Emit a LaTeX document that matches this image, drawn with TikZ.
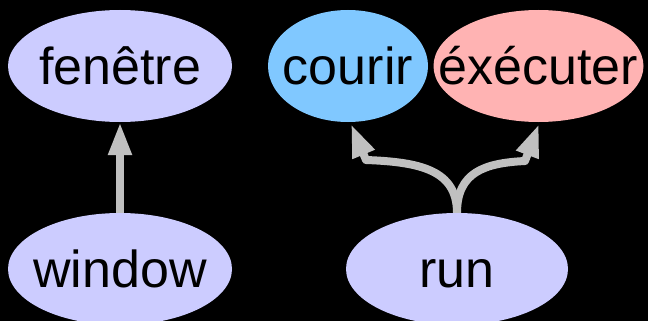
\documentclass[tikz,border=0pt]{standalone}
\usepackage{fontspec}
\setmainfont{Liberation Sans}
\usetikzlibrary{shapes.geometric,arrows.meta}
\definecolor{lav}{RGB}{204,204,255}
\definecolor{skyb}{RGB}{128,200,255}
\definecolor{pinkr}{RGB}{255,179,179}
\definecolor{arrgray}{RGB}{192,192,192}
\newcommand{\lbl}[1]{\makebox[0pt]{\smash{\raisebox{-0.35em}{#1}}}}
\begin{document}
\begin{tikzpicture}[x=1pt,y=-1pt,
  bubble/.style={ellipse,inner sep=0pt,minimum height=112pt,
    font=\fontsize{52}{60}\selectfont},
  conn/.style={draw=arrgray,line width=8pt,line join=round,
    -{Triangle[length=33pt,width=22pt]}}]
\fill[black] (0,0) rectangle (648,321);
\useasboundingbox (0,0) rectangle (648,321);
\node[bubble,fill=lav,minimum width=224pt] (fen) at (120,66) {\lbl{fenêtre}};
\node[bubble,fill=lav,minimum width=224pt] (win) at (120,269) {\lbl{window}};
\node[bubble,fill=skyb,minimum width=160pt] (cou) at (348,66) {\lbl{courir}};
\node[bubble,fill=pinkr,minimum width=210pt] (exe) at (538.5,66) {\lbl{éxécuter}};
\node[bubble,fill=lav,minimum width=222pt] (run) at (457,269) {\lbl{run}};
\coordinate (lb) at (366,160);
\coordinate (lt) at (351,124);
\coordinate (rb) at (525,161);
\coordinate (rt) at (539,124);
\draw[conn] (win.north) -- (fen.south);
\draw[conn] (run.north) .. controls (457,170) and (420,162) .. (lb) -- (lt);
\draw[conn] (run.north) .. controls (457,172) and (485,163) .. (rb) -- (rt);
\end{tikzpicture}
\end{document}
